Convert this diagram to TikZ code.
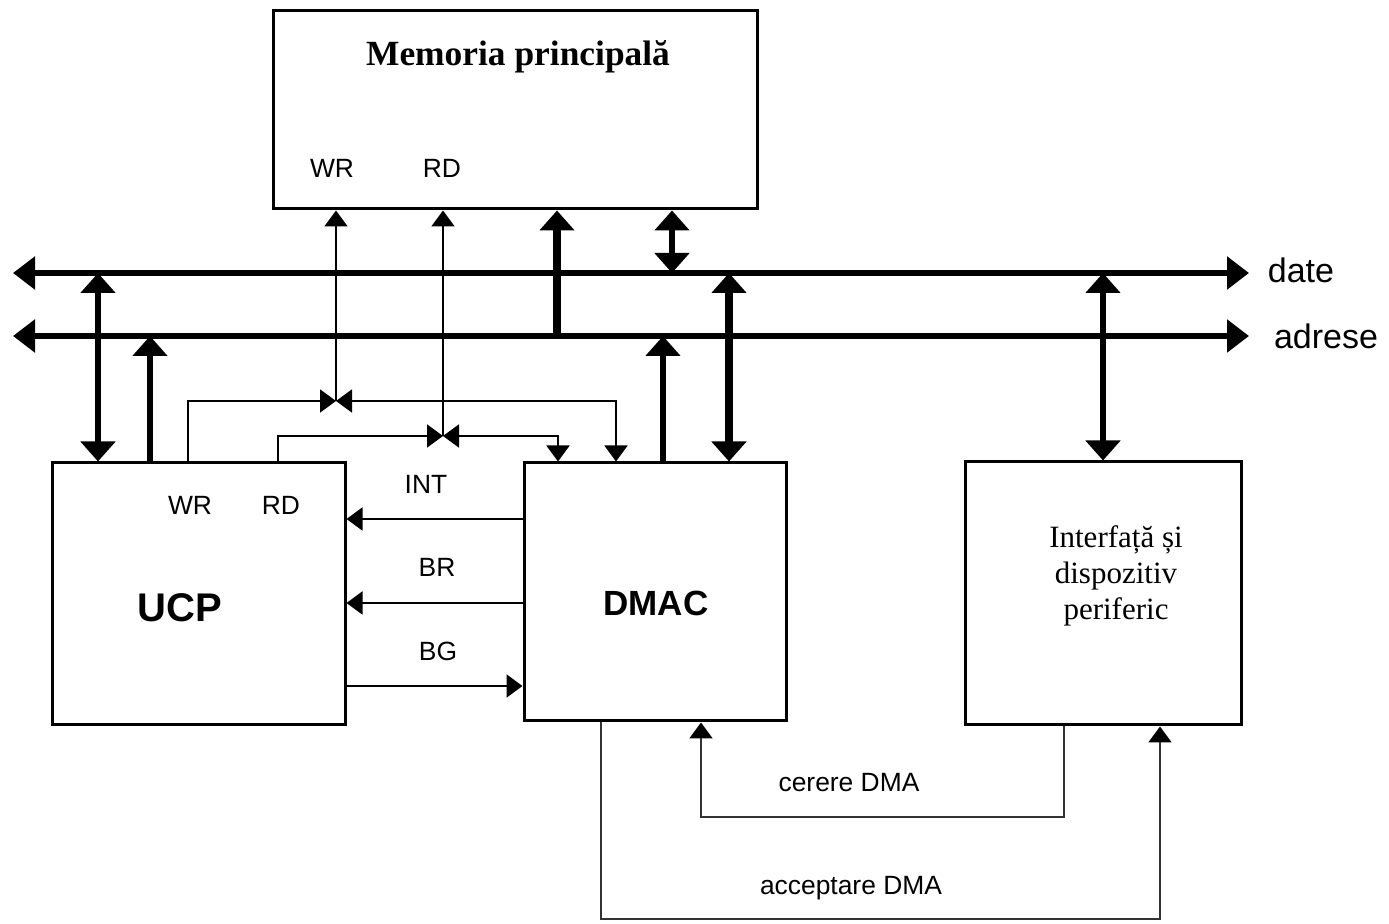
\documentclass[tikz,border=0pt]{standalone}
\usepackage{fontspec}
\setmainfont{Liberation Serif}
\setsansfont{Liberation Sans}
\usetikzlibrary{arrows.meta}

\begin{document}
\begin{tikzpicture}[x=0.5pt,y=-0.5pt,
  box/.style={draw, line width=1.5pt, rectangle, inner sep=0pt},
  lbl/.style={font=\sffamily\fontsize{13.2}{16}\selectfont, inner sep=0pt},
  sig/.style={line width=1pt},
  low/.style={line width=1pt, draw=black!80},
  Tb/.tip={Triangle[length=10pt,width=17pt]},
  Tbus/.tip={Triangle[length=11pt,width=16pt]},
  Ts/.tip={Triangle[length=8pt,width=11.5pt]},
  Tl/.tip={Triangle[length=8pt,width=11.5pt,fill=black,color=black]}
]
\useasboundingbox (0,0) rectangle (1389,924);

% blocks
\node[box, minimum width=242pt, minimum height=99pt] (mem) at (515,110) {};
\node[box, minimum width=146.5pt, minimum height=131pt] (ucp) at (198.5,594) {};
\node[box, minimum width=131pt, minimum height=129pt] (dmac) at (655,592) {};
\node[box, minimum width=138pt, minimum height=131.5pt] (ifc) at (1103,593.5) {};

% block texts
\node[font=\bfseries\fontsize{17.7}{21}\selectfont, inner sep=0pt] (memt) at (518,57) {Memoria principală};
\node[lbl] (memwr) at (332,168) {WR};
\node[lbl] (memrd) at (442,168) {RD};
\node[lbl] (ucpwr) at (190,505) {WR};
\node[lbl] (ucprd) at (281,505) {RD};
\node[font=\sffamily\bfseries\fontsize{20}{24}\selectfont, inner sep=0pt] (ucpt) at (180,608) {UCP};
\node[font=\sffamily\bfseries\fontsize{17.5}{21}\selectfont, inner sep=0pt] (dmact) at (656,603) {DMAC};
\node[font=\fontsize{15.5}{18}\selectfont, align=center, inner sep=0pt] (ifct) at (1116,576) {Interfață și\\dispozitiv\\periferic};

% bus ends and routing positions
\coordinate (dateL) at (13,273);
\coordinate (dateR) at (1249,273);
\coordinate (adrL) at (13,336);
\coordinate (adrR) at (1249,336);
\coordinate (xUd) at (98,0);
\coordinate (xUa) at (150,0);
\coordinate (xUw) at (188,0);
\coordinate (xUr) at (278,0);
\coordinate (xMa) at (557,0);
\coordinate (xDr) at (558,0);
\coordinate (xDw) at (616,0);
\coordinate (xDa) at (663,0);
\coordinate (xMd) at (672,0);
\coordinate (xDd) at (729,0);
\coordinate (xId) at (1103,0);
\coordinate (xDg) at (601,0);
\coordinate (xDq) at (701,0);
\coordinate (xIq) at (1064,0);
\coordinate (xIg) at (1160,0);
\coordinate (jw) at (336,401);
\coordinate (jr) at (443,436);
\coordinate (yInt) at (0,519);
\coordinate (yBR) at (0,603);
\coordinate (yBG) at (0,686);
\coordinate (yQ) at (0,817);
\coordinate (yA) at (0,919);

% buses
\draw[line width=2.8pt, {Tbus}-{Tbus}] (dateL) -- (dateR);
\draw[line width=2.8pt, {Tbus}-{Tbus}] (adrL) -- (adrR);
\node[font=\sffamily\fontsize{17}{20}\selectfont, inner sep=0pt] (datet) at (1301,270) {date};
\node[font=\sffamily\fontsize{17}{20}\selectfont, inner sep=0pt] (adrt) at (1326,336) {adrese};

% bus connections
\draw[line width=3pt, {Tb}-{Tb}] (dateL -| xUd) -- (ucp.north -| xUd);
\draw[line width=2.6pt, -{Tb}] (ucp.north -| xUa) -- (adrL -| xUa);
\draw[line width=4pt, -{Tb}] (adrL -| xMa) -- (mem.south -| xMa);
\draw[line width=3.2pt, {Tb}-{Tb}] (mem.south -| xMd) -- (dateL -| xMd);
\draw[line width=4pt, {Tb}-{Tb}] (dateL -| xDd) -- (dmac.north -| xDd);
\draw[line width=2.8pt, -{Tb}] (dmac.north -| xDa) -- (adrL -| xDa);
\draw[line width=2.6pt, {Tb}-{Tb}] (dateL -| xId) -- (ifc.north -| xId);

% read / write control lines
\draw[sig, -{Ts}] (ucp.north -| xUw) |- (jw);
\draw[sig, {Ts}-{Ts}] (jw) -| (dmac.north -| xDw);
\draw[sig, -{Ts}] (jw) -- (mem.south -| jw);
\draw[sig, -{Ts}] (ucp.north -| xUr) |- (jr);
\draw[sig, {Ts}-{Ts}] (jr) -| (dmac.north -| xDr);
\draw[sig, -{Ts}] (jr) -- (mem.south -| jr);

% INT, BR, BG
\draw[sig, -{Ts}] (dmac.west |- yInt) -- (ucp.east |- yInt);
\draw[sig, -{Ts}] (dmac.west |- yBR) -- (ucp.east |- yBR);
\draw[sig, -{Ts}] (ucp.east |- yBG) -- (dmac.west |- yBG);
\node[lbl] (intt) at (426,484) {INT};
\node[lbl] (brt) at (437,567) {BR};
\node[lbl] (bgt) at (438,651) {BG};

% DMA request / acknowledge
\draw[low, -{Tl}] (ifc.south -| xIq) -- (xIq |- yQ) -| (dmac.south -| xDq);
\draw[low, -{Tl}] (dmac.south -| xDg) -- (xDg |- yA) -| (ifc.south -| xIg);
\node[lbl] (cer) at (849,783) {cerere DMA};
\node[lbl] (acc) at (851,888) {acceptare DMA};
\end{tikzpicture}
\end{document}
